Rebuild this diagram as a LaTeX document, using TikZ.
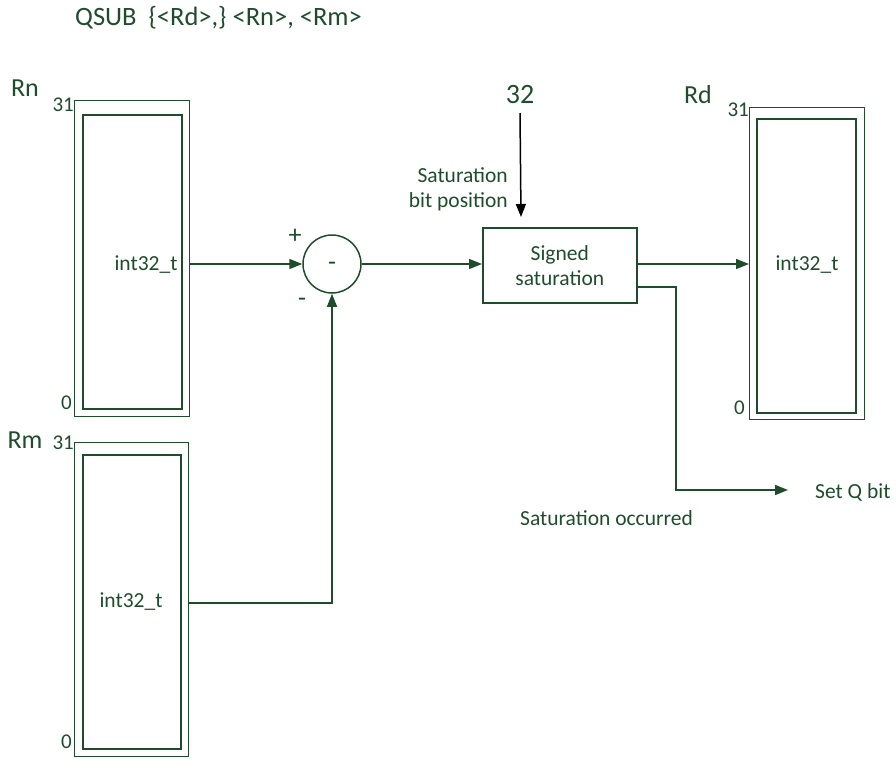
\documentclass[tikz,border=0pt]{standalone}
\usepackage{fontspec}
\setmainfont{Carlito}
\usetikzlibrary{arrows.meta}
\definecolor{dg}{HTML}{1F4D2B}
\begin{document}
\begin{tikzpicture}[x=1pt,y=-1pt,
  every node/.style={text=dg,font=\fontsize{21.5}{25}\selectfont,inner sep=0pt},
  outerbox/.style={draw=dg,line width=1.1pt},
  innerbox/.style={draw=dg,line width=1.7pt},
  conn/.style={draw=dg,line width=1.5pt},
  arr/.style={conn,-{Triangle[length=13pt,width=10pt]}},
  big/.style={font=\fontsize{26}{28}\selectfont},
  lbl/.style={font=\fontsize{21}{23}\selectfont}]
\useasboundingbox (0,0) rectangle (896,758);
% title
\node[anchor=west,font=\fontsize{26.5}{28}\selectfont] (title) at (75,18) {QSUB\ \ \{<Rd>,\} <Rn>, <Rm>};
% Rn register
\node[outerbox,minimum width=115,minimum height=316,anchor=north west] (rnout) at (74,100) {};
\node[innerbox,minimum width=99,minimum height=294,anchor=north west] (rnin) at (82,114) {};
\node (rnt) at (146,265) {int32\_t};
\node[big] (rnlab) at (25,88) {Rn};
\node[lbl,anchor=east] (rn31) at (74,105) {31};
\node[lbl,anchor=east] (rn0) at (72,403) {0};
% Rm register
\node[outerbox,minimum width=114,minimum height=314,anchor=north west] (rmout) at (74,442) {};
\node[innerbox,minimum width=98,minimum height=294,anchor=north west] (rmin) at (82,454) {};
\node (rmt) at (131,602) {int32\_t};
\node[big] (rmlab) at (25,440) {Rm};
\node[lbl,anchor=east] (rm31) at (74,443) {31};
\node[lbl,anchor=east] (rm0) at (72,742) {0};
% subtract circle
\node[draw=dg,line width=1.5pt,circle,minimum size=58] (sub) at (332,264) {};
\node[font=\fontsize{26}{28}\selectfont] (subm) at (332,266) {-};
\node[big] (plus) at (295,236) {+};
\node[big] (minus) at (302,302) {-};
% saturation box
\node[draw=dg,line width=1.5pt,minimum width=154,minimum height=75,anchor=north west,align=center] (sat) at (482,227) {Signed\\saturation};
\node[font=\fontsize{28}{30}\selectfont] (n32) at (520,95) {32};
\node[align=right,anchor=east] (satpos) at (508,189) {Saturation\\bit position};
\coordinate (n32end) at (521,217);
% Rd register
\node[outerbox,minimum width=115,minimum height=312,anchor=north west] (rdout) at (749,107) {};
\node[innerbox,minimum width=99,minimum height=294,anchor=north west] (rdin) at (756,118) {};
\node (rdt) at (807,265) {int32\_t};
\node[big] (rdlab) at (698,95) {Rd};
\node[lbl,anchor=east] (rd31) at (749,110) {31};
\node[lbl,anchor=east] (rd0) at (745,408) {0};
% outputs
\node[anchor=west] (setq) at (815,492) {Set Q bit};
\node[anchor=west] (occ) at (520,518) {Saturation occurred};
\coordinate (qcorner) at (676,490);
\coordinate (qtip) at (788,490);
% connectors
\draw[arr] (rnout.east |- sub.west) -- (sub.west);
\draw[arr] (rmout.east |- 0,603) -| (sub.south);
\draw[arr] (sub.east) -- (sat.west |- sub.east);
\draw[line width=1.5pt,-{Triangle[length=13pt,width=10pt]}] (n32.south |- 0,113) -- (n32end);
\draw[arr] (sat.east |- 0,264) -- (rdout.west |- 0,264);
\draw[arr] (sat.east |- 0,287) -| (qcorner) -- (qtip);
\end{tikzpicture}
\end{document}
